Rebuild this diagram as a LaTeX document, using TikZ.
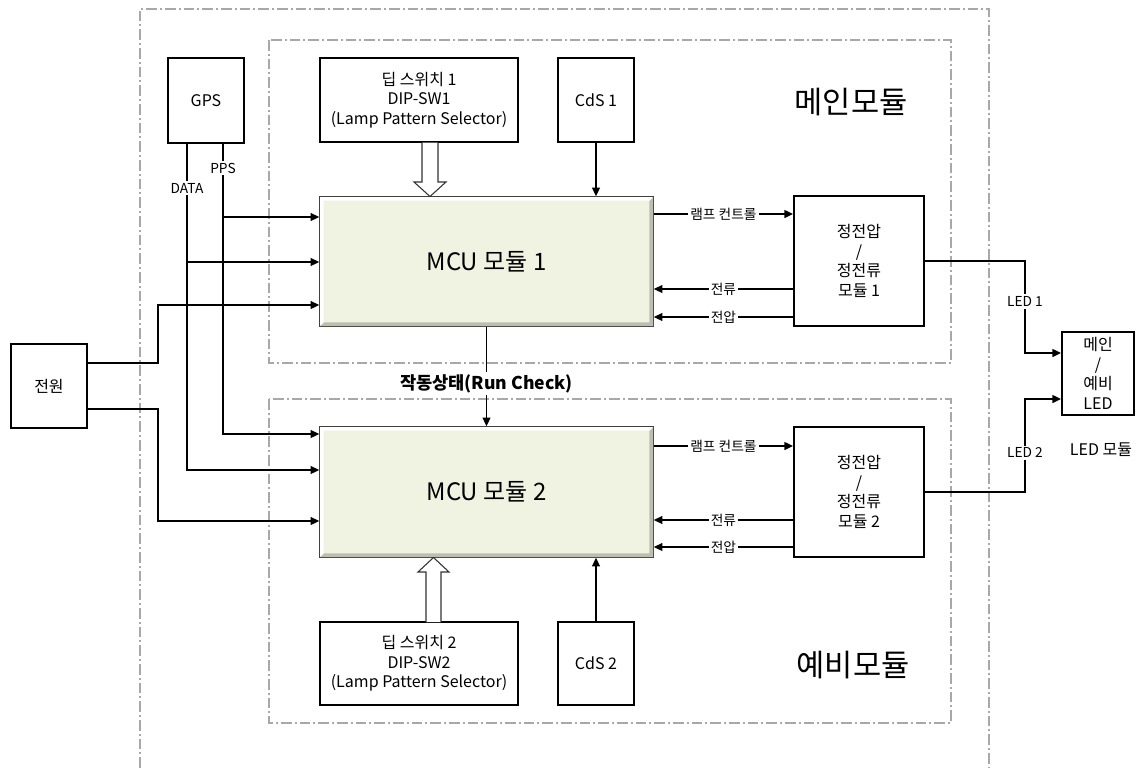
\documentclass[tikz,border=0pt]{standalone}
\usepackage{fontspec}
\setmainfont{Noto Sans CJK KR}
\usetikzlibrary{arrows.meta}
\definecolor{mcufill}{HTML}{F1F3E2}
\definecolor{dashgray}{HTML}{A8A8A8}
\definecolor{beveldark}{HTML}{BDBFAE}
\begin{document}
\begin{tikzpicture}[x=0.75pt,y=-0.75pt,
  box/.style={draw=black,line width=1.5pt,fill=white,inner sep=0pt,align=center,font=\fontsize{12}{14.7}\selectfont},
  mcu/.style={draw=black!75,line width=1.2pt,fill=mcufill,inner sep=0pt},
  mcutext/.style={font=\fontsize{18}{21}\selectfont},
  conn/.style={line width=1pt},
  arr/.style={conn,-{Triangle[length=6.5pt,width=6pt]}},
  lbl/.style={fill=white,inner sep=1.5pt,font=\fontsize{10.3}{12}\selectfont},
  runlbl/.style={fill=white,inner sep=1.5pt,font=\bfseries\fontsize{13.2}{15}\selectfont},
  zone/.style={draw=dashgray,line width=0.9pt,dash pattern=on 8pt off 2.25pt on 1.5pt off 2.25pt},
  hollow/.style={draw=black!80,line width=0.8pt,fill=white,line join=miter},
  big/.style={font=\fontsize{23}{27}\selectfont}]
\useasboundingbox (0,0) rectangle (1136,768);

% zones
\draw[zone] (140,768) -- (140,9) -- (989,9) -- (989,768);
\draw[zone] (269,40) rectangle (951,363);
\draw[zone] (269,399) rectangle (951,723);
\node[big] (tmain) at (851,102) {메인모듈};
\node[big] (tspare) at (853,665) {예비모듈};

% boxes
\node[box,minimum width=57pt,minimum height=63.75pt] (gps) at (206,100.5) {GPS};
\node[box,minimum width=148.5pt,minimum height=63pt] (dip1) at (419,100) {딥 스위치 1\\DIP-SW1\\(Lamp Pattern Selector)};
\node[box,minimum width=57pt,minimum height=63pt] (cds1) at (596,100) {CdS 1};
\node[mcu,minimum width=249.75pt,minimum height=96.75pt] (mcu1) at (486.5,261.5) {};
\node[box,minimum width=97.5pt,minimum height=97.5pt] (ps1) at (859,261) {정전압\\/\\정전류\\모듈 1};
\node[box,minimum width=57pt,minimum height=63pt] (pwr) at (49,386) {전원};
\node[box,minimum width=54pt,minimum height=62.25pt] (led) at (1098,373.5) {메인\\/\\예비\\LED};
\node[box,draw=none,fill=none] (ledt) at (1101,450) {LED 모듈};
\node[mcu,minimum width=249.75pt,minimum height=97.5pt] (mcu2) at (486.5,492) {};
\node[box,minimum width=97.5pt,minimum height=97.5pt] (ps2) at (859,492) {정전압\\/\\정전류\\모듈 2};
\node[box,minimum width=148.5pt,minimum height=62.25pt] (dip2) at (419,663.5) {딥 스위치 2\\DIP-SW2\\(Lamp Pattern Selector)};
\node[box,minimum width=57pt,minimum height=62.25pt] (cds2) at (596,663.5) {CdS 2};

% bevels of MCU boxes
\foreach \m in {mcu1,mcu2}{
  \fill[beveldark] ([xshift=-0.6pt,yshift=-0.6pt]\m.north east) -- ([xshift=-0.6pt,yshift=0.6pt]\m.south east)
    -- ([xshift=0.6pt,yshift=0.6pt]\m.south west) -- ([xshift=3.3pt,yshift=3.3pt]\m.south west)
    -- ([xshift=-3.3pt,yshift=3.3pt]\m.south east) -- ([xshift=-3.3pt,yshift=-3.3pt]\m.north east) -- cycle;
  \fill[white] ([xshift=0.6pt,yshift=0.6pt]\m.south west) -- ([xshift=0.6pt,yshift=-0.6pt]\m.north west)
    -- ([xshift=-0.6pt,yshift=-0.6pt]\m.north east) -- ([xshift=-3.3pt,yshift=-3.3pt]\m.north east)
    -- ([xshift=3.3pt,yshift=-3.3pt]\m.north west) -- ([xshift=3.3pt,yshift=3.3pt]\m.south west) -- cycle;
}
\node[mcutext] at (mcu1) {MCU 모듈 1};
\node[mcutext] at (mcu2) {MCU 모듈 2};

% coordinates
\coordinate (dA) at (187,262);
\coordinate (dB) at (187,470);
\coordinate (sA) at (223,217);
\coordinate (sB) at (223,434);
\coordinate (p1) at (158,363);
\coordinate (pA) at (158,305);
\coordinate (p2) at (158,409);
\coordinate (pB) at (158,521);
\coordinate (lx) at (1025,0);
\coordinate (ly1) at (0,353);
\coordinate (ly2) at (0,399);
\coordinate (r1) at (0,214);
\coordinate (c1) at (0,289);
\coordinate (v1) at (0,317);
\coordinate (r2) at (0,446);
\coordinate (c2) at (0,520);
\coordinate (v2) at (0,547);

% GPS lines
\draw[arr] (gps.south -| dA) -- (dB) -- (dB -| mcu2.west);
\draw[arr] (dA) -- (dA -| mcu1.west);
\draw[arr] (gps.south -| sA) -- (sB) -- (sB -| mcu2.west);
\draw[arr] (sA) -- (sA -| mcu1.west);
\node[lbl] at (223,168) {PPS};
\node[lbl] at (187,188) {DATA};

% power lines
\draw[arr] (p1 -| pwr.east) -- (p1) -- (pA) -- (pA -| mcu1.west);
\draw[arr] (p2 -| pwr.east) -- (p2) -- (pB) -- (pB -| mcu2.west);

% CdS
\draw[arr] (cds1.south) -- (cds1.south |- mcu1.north);
\draw[arr] (cds2.north) -- (cds2.north |- mcu2.south);

% DIP hollow arrows
\draw[hollow] (422,142.5) -- (422,182) -- (414,182) -- (430,196.5) -- (446,182) -- (438,182) -- (438,142.5);
\draw[hollow] (426,622) -- (426,572) -- (418,572) -- (433.5,557.5) -- (449,572) -- (441,572) -- (441,622);

% run check
\draw[arr] (mcu1.south) -- node[runlbl,pos=0.57]{작동상태(Run Check)} (mcu2.north);

% right side
\draw[arr] (r1 -| mcu1.east) -- node[lbl]{램프 컨트롤} (r1 -| ps1.west);
\draw[arr] (c1 -| ps1.west) -- node[lbl]{전류} (c1 -| mcu1.east);
\draw[arr] (v1 -| ps1.west) -- node[lbl]{전압} (v1 -| mcu1.east);
\draw[arr] (r2 -| mcu2.east) -- node[lbl]{램프 컨트롤} (r2 -| ps2.west);
\draw[arr] (c2 -| ps2.west) -- node[lbl]{전류} (c2 -| mcu2.east);
\draw[arr] (v2 -| ps2.west) -- node[lbl]{전압} (v2 -| mcu2.east);

% LED lines
\draw[arr] (ps1.east) -| node[lbl,pos=0.72]{LED 1} (lx |- ly1) -- (led.west |- ly1);
\draw[arr] (ps2.east) -| node[lbl,pos=0.71]{LED 2} (lx |- ly2) -- (led.west |- ly2);
\end{tikzpicture}
\end{document}
